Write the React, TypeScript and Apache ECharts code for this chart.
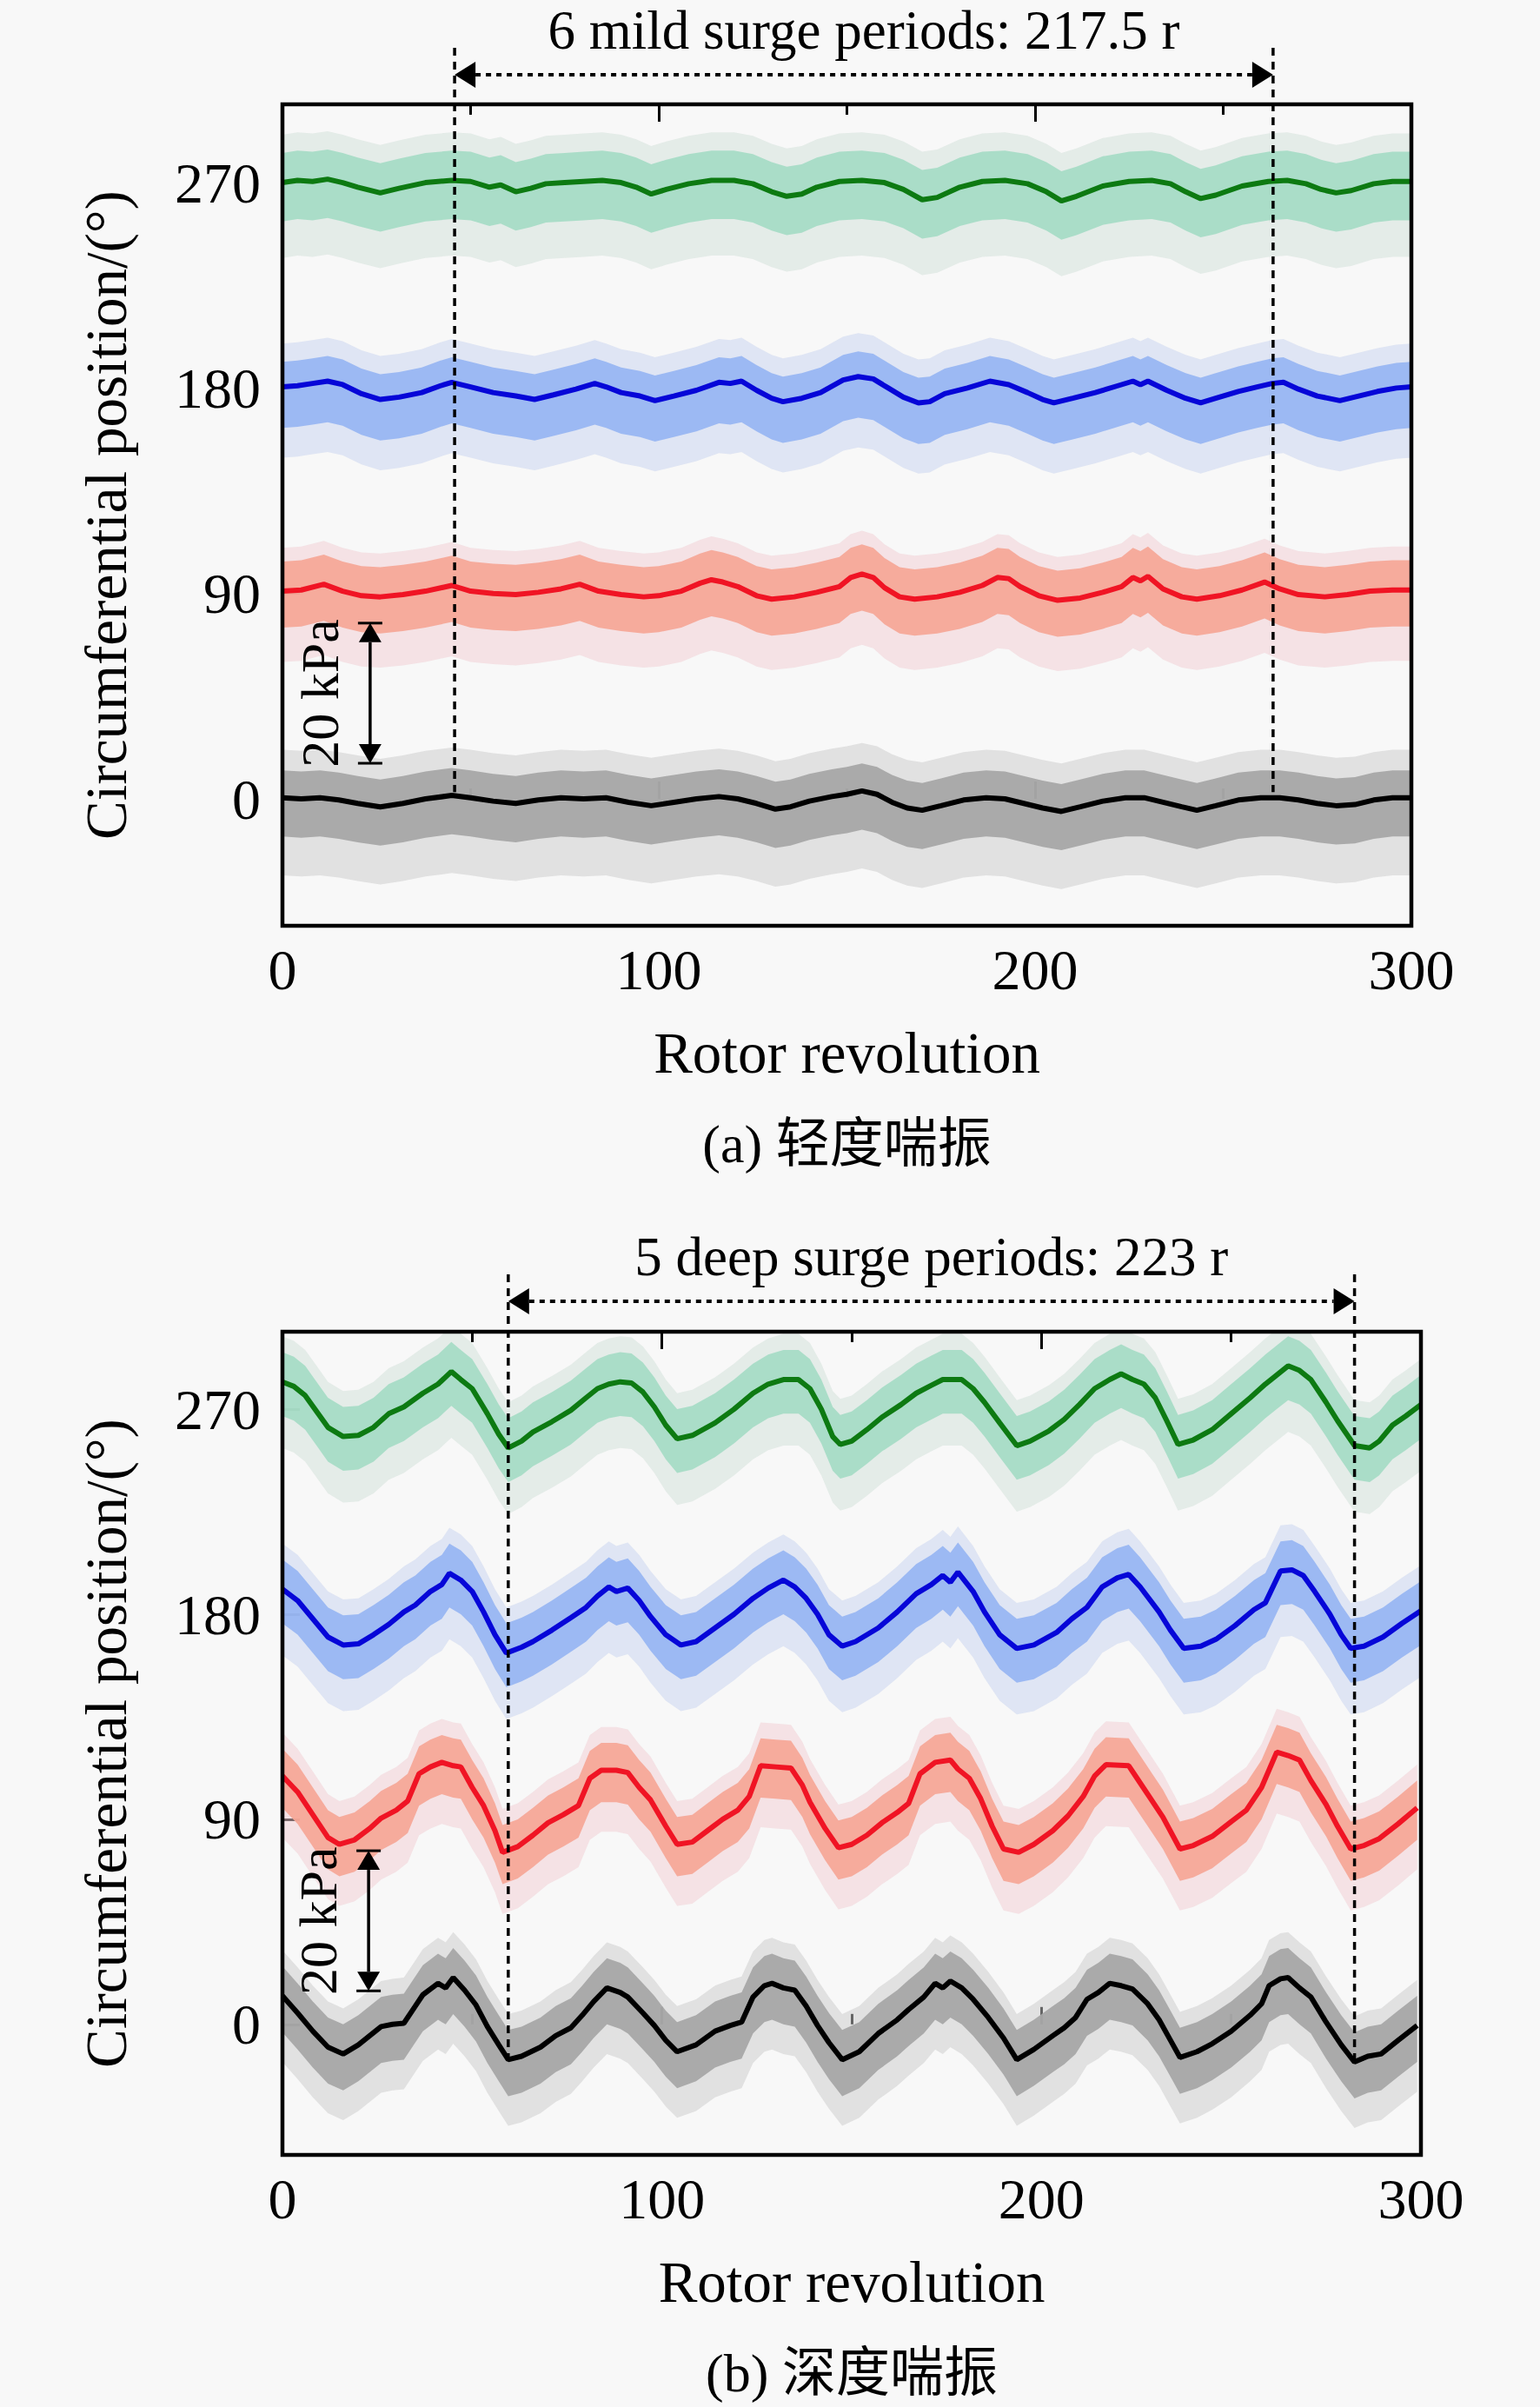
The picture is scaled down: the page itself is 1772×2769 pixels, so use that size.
import React, { useEffect, useRef } from "react";
import * as echarts from "echarts";

// ---------- DATA (rotor revolution r, circumferential position deg) ----------
// (a) mild surge, mean traces
const mild270: [number, number][] = [[0,270],[4,271],[8,270.5],[12,271.5],[16,270],[20,268],[26,265.5],[31,267.5],[38,270],[45,271],[50,270.5],[55,268],[58,269],[62,266],[66,267.5],[70,269.5],[75,270],[80,270.5],[85,271],[90,270],[94,268],[98,265],[102,267],[108,269.5],[114,271],[120,271],[125,269.5],[130,266],[134,264],[138,265],[142,268],[148,270.5],[154,271],[160,270],[165,267],[170,262.5],[174,263.5],[180,268],[186,270.5],[192,271],[198,269.5],[203,266],[207,262],[211,264],[218,268.5],[225,270.5],[231,271],[236,269.5],[240,266],[244,263],[248,264.5],[255,268.5],[262,270.5],[267,271],[272,269.5],[276,267],[280,265.5],[284,266.5],[290,269.5],[295,270.5],[300,270.5]];
const mild180: [number, number][] = [[0,180.5],[4,181],[8,182],[12,183],[16,181.5],[21,177.5],[26,175],[31,176],[37,178],[42,181],[45,182.5],[50,180.5],[56,178],[62,176.5],[67,175],[72,177],[78,179.5],[83,182],[86,180.5],[90,178],[95,176.5],[99,174.5],[104,176.5],[110,179],[116,182.5],[119,182],[122,183],[126,179],[130,175.5],[133,174],[138,175.5],[143,178],[149,183.5],[153,185],[157,184],[161,180],[165,176],[169,173.5],[172,174],[176,177.5],[182,180],[188,183],[193,181.5],[198,178],[202,175],[205,173.5],[210,175.5],[216,178],[222,181],[226,183],[228,181.5],[230,183],[235,179],[240,175.5],[244,173.5],[248,175.5],[254,178.5],[259,180.5],[263,182],[266,182.5],[270,179.5],[275,176.5],[281,174.5],[286,176.5],[291,178.5],[296,180],[300,180.5]];
const mild90: [number, number][] = [[0,91],[5,91.5],[11,94],[16,91],[21,89],[26,88.5],[32,89.5],[38,91],[45,93.5],[50,91],[56,90],[62,89.5],[68,90.5],[74,92],[79,94],[84,91],[90,89.5],[96,88.5],[100,89],[106,91],[111,94.5],[114,96],[117,95],[121,93],[126,89],[130,87.5],[136,88.5],[142,90.5],[148,93],[151,97],[154,98.5],[157,97],[160,92.5],[164,88.5],[168,87.5],[174,88.5],[180,90.5],[186,93.5],[190,97],[193,96.5],[196,93],[201,89],[206,87],[212,88],[218,90.5],[223,93],[226,97],[228,95.5],[230,97.5],[234,92],[239,88.5],[243,87.5],[249,89],[255,91.5],[261,95],[265,92],[270,89.5],[277,88.5],[283,89.5],[289,91],[295,91.5],[300,91.5]];
const mild0: [number, number][] = [[0,0.5],[5,0],[10,0.5],[15,-0.5],[20,-2],[26,-3.5],[32,-2],[38,0],[45,1.5],[50,0.5],[56,-1],[62,-2],[68,-0.5],[74,0.5],[80,0],[86,0.5],[92,-1.5],[98,-3],[104,-1.5],[110,0],[116,1],[121,0],[126,-2],[131,-4.5],[135,-3.5],[140,-1],[146,1],[150,2],[154,3.5],[158,2],[162,-1.5],[166,-4],[170,-5],[175,-3],[181,-0.5],[187,0.5],[192,0],[197,-2],[202,-4],[207,-5.5],[212,-3.5],[218,-1],[224,0.5],[229,0.5],[234,-1.5],[239,-3.5],[243,-5],[248,-3],[254,-0.5],[260,0.5],[265,0.5],[270,-0.5],[275,-2],[280,-3],[285,-2.5],[290,-0.5],[295,0.5],[300,0.5]];

// (b) deep surge, mean traces
const deep270: [number, number][] = [[0,282],[3,280],[6,276],[9,269],[12,262],[16,258],[20,258.5],[24,262],[28,268],[32,271],[37,277],[41,281],[44.5,286.5],[47,283],[50,279],[54,268],[57,259],[59.5,253],[63,256],[66,260],[71,264.5],[76,269.5],[80,275],[83,279],[86,281],[89,282],[92,281.5],[95,277.5],[98,271],[101,263],[104,257],[108,258.5],[114,264],[119,270],[124,277],[128,281],[132,283],[136,283],[139,279],[142,270],[145,258],[147,254.5],[150,256],[154,261],[158,266.5],[163,272],[167,277],[171,280.5],[174,283],[179,283],[182,279],[185,273],[189,264],[193.5,254],[197,256],[202,260.5],[206,265.5],[210,272],[214,279],[218,283],[221,285.5],[224,283],[227,281],[230,275],[233,265],[236,254.5],[240,256.5],[245,261],[250,268],[255,275],[259,281],[262,285],[265,289],[268,287],[271,283],[275,273],[278,265],[282.5,254],[286.5,253],[289,256],[292.5,263],[296,267],[300,272]];
const deep180: [number, number][] = [[0,191],[4,186],[8,178],[12,170],[16,166.5],[20,167],[24,171],[28,175.5],[32,181],[35,184],[39,190],[42,193],[44,198],[47,195],[50,190],[53,181],[56,171],[59,163],[63,165.5],[66,168],[71,173],[76,178.5],[80,183],[83,188],[86,192],[88,190],[91,191.5],[94,186],[97,179],[101,171],[105,166.5],[109,168],[114,174],[119,180],[124,187],[128,191.5],[132,195],[135,192],[138,187],[141,180],[144,171],[147.5,166],[151,168],[157,174],[162,181],[167,189],[171,193],[174,197],[176,194],[178,198.5],[182,190],[185,181],[189,171],[193.5,165],[198,166.5],[204,172],[208,178],[212,183],[216,192],[220,196],[223,197.5],[226,192],[231,181],[234,173],[237.5,165],[242,166],[246,169],[251,175],[256,182],[259,185],[263,199],[266,199.5],[269,197],[272,190],[276,180],[279,171],[281.5,165],[285,166],[290,170],[295,176],[300,181.5]];
const deep90: [number, number][] = [[0,109],[4,102],[8,92],[12,82],[15,79],[19,81],[23,86],[26,90.5],[30,94],[33,98],[36,110],[39,113],[42,115],[45,113.5],[47,113],[50,104],[53,96],[56,85],[58,75.5],[62,78],[66,83],[70,88.5],[74,92],[78,96],[81,108],[84,111.5],[88,111.5],[91,110.5],[94,104],[97,98.5],[101,87],[104,79],[108,80],[112,85],[116,90],[120,94],[123,100],[126,113.5],[130,113],[134,112.5],[137,105],[139,97.5],[143,86],[146.5,77.5],[150,79],[154,83],[158,88.5],[162,93],[165,97],[168,110],[172,115],[176,116],[178,112],[181,108],[184,99],[187,87],[190,77],[194,75.5],[198,79],[203,85],[207,91.5],[211,100],[214,109],[217,114],[223,113.5],[226,106],[229,98.5],[232,91],[236.5,77],[240,78.5],[245,82.5],[250,89],[254,94],[258,104],[262,119.5],[265,118],[268,116],[271,107],[275,96.5],[278,87],[281.5,77],[285,78.5],[289,81.5],[294,88],[299,95]];
const deep0: [number, number][] = [[0,12.5],[4,5],[8,-3],[12,-10],[16,-13],[20,-9],[23,-5],[26,-1],[29,0],[32,0.5],[35,8],[37,13],[41,18],[43,16],[45,20.5],[48,15],[51,8.5],[54,-1],[57,-9],[59.5,-15.5],[63,-14],[68,-10],[72,-5],[76,-1.5],[79,4],[82,10],[85.5,16],[89,14],[91,12],[95,5],[98,-0.5],[101,-7],[104,-12],[109,-9],[114,-3],[118,-0.5],[121,1],[124,12],[127,17],[129,18],[132,16],[135,15],[138,8],[141,-0.5],[144,-8],[147.5,-15.5],[152,-12],[157,-4],[162,2],[165,6.5],[169,12],[172,18],[174,16],[176,19],[179,16],[182,11],[186,3],[190,-6],[193.5,-15.5],[198,-11],[203,-5],[206,-1.5],[209,3],[212,11],[215,14],[218,18],[221,17],[224,15.5],[228,9],[231,2],[234,-7],[236.5,-14.5],[241,-12],[245,-8.5],[250,-3],[255,4],[258,9],[260,17],[263,20],[265,20.5],[268,16],[271,12],[275,1],[279,-9],[282.5,-16.5],[286,-14],[289.5,-13],[294,-7],[299,-0.5]];

// Noise spread around each mean trace, deg: [band up, band down, spikes up, spikes down]
const mildSpread: number[][] = [[13, 17, 21, 33], [11, 18, 19, 31], [13, 16, 19, 31], [12, 17, 21, 34]];
const deepSpread: number[][] = [[13, 15, 20, 29], [13, 15, 20, 29], [12, 14, 19, 27], [13, 16, 20, 29]];

// Axis ticks and annotations
const xTicks = [0, 100, 200, 300];
const yTicks = [0, 90, 180, 270];
const mildPeriodSpan = [45.75, 263.25]; // 6 periods = 217.5 r
const deepPeriodSpan = [59.5, 282.5]; // 5 periods = 223 r
const mildTitle = "6 mild surge periods: 217.5 r";
const deepTitle = "5 deep surge periods: 223 r";
const mildCaption = "(a) 轻度喘振";
const deepCaption = "(b) 深度喘振";
const scaleBarLabel = "20 kPa";

// ---------- STYLES ----------
const LINE_COLORS = ["#0d7a12", "#0606d8", "#f01424", "#000000"];
const BAND_COLORS = ["#a6dcc6", "#98b6f2", "#f6a898", "#a6a6a6"];
const HAZE_COLORS = ["#cfe0d8", "#c6d2f0", "#f2ccd2", "#cacaca"];
const BG = "#f8f8f8";
const SERIF = "'Liberation Serif', 'Times New Roman', 'Noto Sans CJK SC', serif";
const CJK = "'Liberation Serif', 'Noto Sans CJK SC', serif";

const GRIDS = [
  { left: 325, top: 120, width: 1299, height: 945 },
  { left: 325, top: 1532, width: 1310, height: 947 },
];
const Y_RANGE = [
  [-55.6, 304.3],
  [-57.3, 304],
];

function bandSeries(points: [number, number][], spread: number[], idx: number, axisIdx: number) {
  return {
    type: "custom",
    xAxisIndex: axisIdx * 2,
    yAxisIndex: axisIdx,
    silent: true,
    clip: true,
    z: 1,
    data: [points[0]],
    renderItem: (_params: any, api: any) => {
      const upper = (d: number) => points.map((p) => api.coord([p[0], p[1] + d]));
      const lower = (d: number) => points.map((p) => api.coord([p[0], p[1] - d])).reverse();
      return {
        type: "group",
        children: [
          {
            type: "polygon",
            shape: { points: [...upper(spread[2]), ...lower(spread[3])] },
            style: { fill: HAZE_COLORS[idx], opacity: 0.5 },
          },
          {
            type: "polygon",
            shape: { points: [...upper(spread[0]), ...lower(spread[1])] },
            style: { fill: BAND_COLORS[idx], opacity: 0.95 },
          },
        ],
      };
    },
  };
}

function lineSeries(points: [number, number][], idx: number, axisIdx: number) {
  return {
    type: "line",
    xAxisIndex: axisIdx * 2,
    yAxisIndex: axisIdx,
    data: points,
    showSymbol: false,
    symbol: "none",
    silent: true,
    z: 3,
    lineStyle: { color: LINE_COLORS[idx], width: 6 },
  };
}

function xAxes(gridIndex: number) {
  const common = {
    type: "value",
    gridIndex,
    min: 0,
    max: 300,
    interval: 100,
    splitLine: { show: false },
    axisLine: { show: false },
    axisTick: { show: true, inside: true, length: 20, lineStyle: { color: "#000", width: 3 } },
    minorTick: { show: true, splitNumber: 2, length: 12, lineStyle: { color: "#000", width: 3 } },
  };
  return [
    {
      ...common,
      position: "bottom",
      name: "Rotor revolution",
      nameLocation: "middle",
      nameGap: 112,
      nameTextStyle: { fontFamily: SERIF, fontSize: 67, color: "#000" },
      axisLabel: { show: true, margin: 17, fontFamily: SERIF, fontSize: 66, color: "#000", customValues: xTicks },
    },
    { ...common, position: "top", axisLabel: { show: false } },
  ];
}

function yAxis(gridIndex: number) {
  return {
    type: "value",
    gridIndex,
    min: Y_RANGE[gridIndex][0],
    max: Y_RANGE[gridIndex][1],
    position: "left",
    splitLine: { show: false },
    axisLine: { show: false },
    name: "Circumferential position/(°)",
    nameLocation: "middle",
    nameGap: 170,
    nameTextStyle: { fontFamily: SERIF, fontSize: 67, color: "#000" },
    axisTick: { show: true, inside: true, length: 20, customValues: yTicks, lineStyle: { color: "#000", width: 3 } },
    axisLabel: { show: true, margin: 25, fontFamily: SERIF, fontSize: 66, color: "#000", customValues: yTicks },
  };
}

export default function App() {
  const ref = useRef<HTMLDivElement>(null);
  useEffect(() => {
    if (!ref.current) return;
    const chart = echarts.init(ref.current, undefined, { renderer: "svg", width: 1772, height: 2769 });
    const mild = [mild270, mild180, mild90, mild0];
    const deep = [deep270, deep180, deep90, deep0];
    const series: any[] = [];
    mild.forEach((pts, i) => series.push(bandSeries(pts, mildSpread[i], i, 0)));
    deep.forEach((pts, i) => series.push(bandSeries(pts, deepSpread[i], i, 1)));
    mild.forEach((pts, i) => series.push(lineSeries(pts, i, 0)));
    deep.forEach((pts, i) => series.push(lineSeries(pts, i, 1)));

    chart.setOption({
      animation: false,
      backgroundColor: BG,
      grid: GRIDS.map((g) => ({ ...g, show: true, borderColor: "#000", borderWidth: 4.5, backgroundColor: "transparent", z: 10 })),
      xAxis: [...xAxes(0), ...xAxes(1)],
      yAxis: [yAxis(0), yAxis(1)],
      series,
    });

    const px = (g: number, x: number, y: number) =>
      chart.convertToPixel({ xAxisIndex: g * 2, yAxisIndex: g }, [x, y]) as number[];

    const graphics: any[] = [];
    const addSpan = (g: number, span: number[], topY: number, arrowY: number, endVal: number, title: string) => {
      const xl = px(g, span[0], 0)[0];
      const xr = px(g, span[1], 0)[0];
      const yEnd = px(g, span[0], endVal)[1];
      [xl, xr].forEach((x) => {
        graphics.push({
          type: "line",
          z: 100,
          shape: { x1: x, y1: topY, x2: x, y2: yEnd },
          style: { stroke: "#000", lineWidth: 3.5, lineDash: [9, 7] },
        });
      });
      const ah = 24;
      const aw = 15;
      graphics.push({
        type: "line",
        z: 100,
        shape: { x1: xl + ah, y1: arrowY, x2: xr - ah, y2: arrowY },
        style: { stroke: "#000", lineWidth: 4, lineDash: [6, 6] },
      });
      graphics.push({
        type: "polygon",
        z: 100,
        shape: { points: [[xl, arrowY], [xl + ah, arrowY - aw], [xl + ah, arrowY + aw]] },
        style: { fill: "#000" },
      });
      graphics.push({
        type: "polygon",
        z: 100,
        shape: { points: [[xr, arrowY], [xr - ah, arrowY - aw], [xr - ah, arrowY + aw]] },
        style: { fill: "#000" },
      });
      graphics.push({
        type: "text",
        z: 100,
        x: (xl + xr) / 2,
        y: arrowY - 51,
        style: { text: title, fontFamily: SERIF, fontSize: 63, fill: "#000", align: "center", verticalAlign: "middle" },
      });
    };
    addSpan(0, mildPeriodSpan, 55, 86, 3, mildTitle);
    addSpan(1, deepPeriodSpan, 1466, 1497, -17, deepTitle);

    const addScaleBar = (g: number, r: number, yTop: number, yBot: number) => {
      const [x, y1] = px(g, r, yTop);
      const y2 = px(g, r, yBot)[1];
      const ah = 22;
      const aw = 13;
      graphics.push({ type: "line", z: 100, shape: { x1: x, y1: y1 + ah, x2: x, y2: y2 - ah }, style: { stroke: "#000", lineWidth: 3.5 } });
      graphics.push({ type: "line", z: 100, shape: { x1: x - 14, y1, x2: x + 14, y2: y1 }, style: { stroke: "#000", lineWidth: 3 } });
      graphics.push({ type: "line", z: 100, shape: { x1: x - 14, y1: y2, x2: x + 14, y2 }, style: { stroke: "#000", lineWidth: 3 } });
      graphics.push({ type: "polygon", z: 100, shape: { points: [[x, y1], [x - aw, y1 + ah], [x + aw, y1 + ah]] }, style: { fill: "#000" } });
      graphics.push({ type: "polygon", z: 100, shape: { points: [[x, y2], [x - aw, y2 - ah], [x + aw, y2 - ah]] }, style: { fill: "#000" } });
      graphics.push({
        type: "text",
        z: 100,
        x: x - 58,
        y: (y1 + y2) / 2,
        rotation: Math.PI / 2,
        style: { text: scaleBarLabel, fontFamily: SERIF, fontSize: 62, fill: "#000", align: "center", verticalAlign: "middle" },
      });
    };
    addScaleBar(0, 23.3, 77, 15.6);
    addScaleBar(1, 22.7, 76.2, 14.7);

    graphics.push({
      type: "text",
      z: 100,
      x: GRIDS[0].left + GRIDS[0].width / 2,
      y: 1316,
      style: { text: mildCaption, fontFamily: CJK, fontSize: 62, fill: "#000", align: "center", verticalAlign: "middle" },
    });
    graphics.push({
      type: "text",
      z: 100,
      x: GRIDS[1].left + GRIDS[1].width / 2,
      y: 2730,
      style: { text: deepCaption, fontFamily: CJK, fontSize: 62, fill: "#000", align: "center", verticalAlign: "middle" },
    });

    chart.setOption({ graphic: graphics });
    return () => chart.dispose();
  }, []);
  return (
    <div
      ref={ref}
      style={{ position: "absolute", left: 0, top: 0, width: 1772, height: 2769, background: BG }}
    />
  );
}
